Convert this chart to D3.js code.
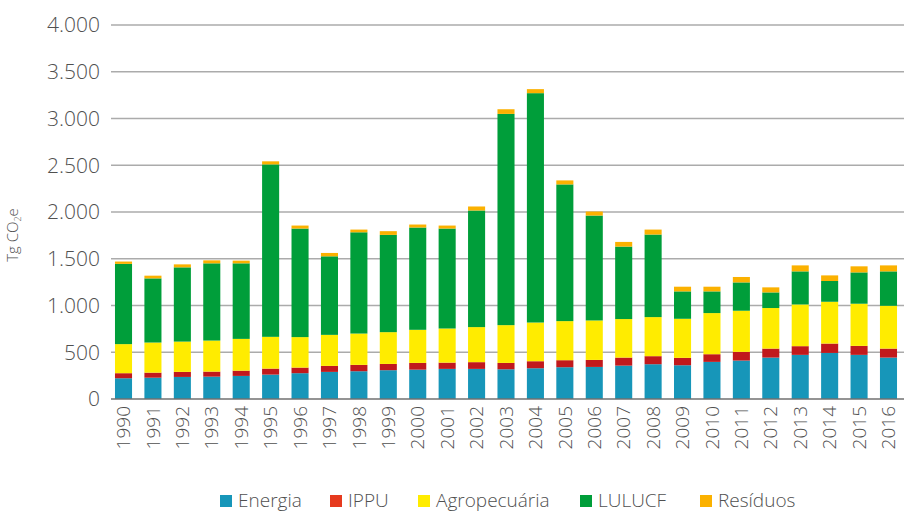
<!DOCTYPE html>
<html lang="pt">
<head>
<meta charset="utf-8">
<title>Emissões por setor 1990-2016</title>
<script src="https://cdn.jsdelivr.net/npm/d3@7"></script>
<style>
  body { margin: 0; background: #fff; }
  svg { display: block; }
  .tick-label { font-family: "Open Sans", sans-serif; font-weight: 300; fill: #505050; }
  .grid line { stroke: #ababab; stroke-width: 1.5px; }
  .legend text { font-family: "Open Sans", sans-serif; font-weight: 300; font-size: 19px; fill: #505050; }
</style>
</head>
<body>
<div id="chart"></div>
<script>
// values in Tg CO2e
var years = ["1990","1991","1992","1993","1994","1995","1996","1997","1998","1999",
             "2000","2001","2002","2003","2004","2005","2006","2007","2008","2009",
             "2010","2011","2012","2013","2014","2015","2016"];

var energia =      [222,228,236,239,247,261,276,290,297,308,314,322,322,318,329,340,343,357,372,361,397,411,443,472,493,472,443];
var ippu =         [54,54,54,54,56,64,60,64,68,67,72,67,72,68,75,75,75,86,86,79,82,93,96,93,100,96,96];
var agropecuaria = [311,322,324,332,340,340,326,332,335,340,354,365,375,404,414,418,422,412,418,418,440,440,434,446,447,451,458];
var lulucf =       [858,686,794,826,808,1844,1161,840,1083,1040,1094,1069,1247,2259,2453,1462,1122,775,883,293,232,303,167,354,222,335,368];
var residuos =     [25,29,32,32,29,33,32,36,29,40,32,32,43,50,43,43,43,50,53,50,50,58,54,64,60,65,64];

var seriesNames = ["Energia", "IPPU", "Agropecuária", "LULUCF", "Resíduos"];
var barColors =    ["#1796b9", "#c1191c", "#ffec00", "#009e3a", "#fbb100"];
var legendColors = ["#1796b9", "#e63a1e", "#ffec00", "#009e3a", "#fbb100"];
var yTicks = [0, 500, 1000, 1500, 2000, 2500, 3000, 3500, 4000];

var width = 904, height = 513;

var rows = years.map(function(y, i) {
  return {year: y, "Energia": energia[i], "IPPU": ippu[i], "Agropecuária": agropecuaria[i],
          "LULUCF": lulucf[i], "Resíduos": residuos[i]};
});

var svg = d3.select("#chart").append("svg")
  .attr("width", width)
  .attr("height", height);

var x = d3.scaleBand()
  .domain(years)
  .range([108.8, 903.2])
  .paddingInner(0.42)
  .paddingOuter(0.21);

var y = d3.scaleLinear()
  .domain([0, 4000])
  .range([399, 25]);

var fmt = d3.formatLocale({decimal: ",", thousands: ".", grouping: [3], currency: ["R$", ""]}).format(",");

// grid lines
svg.append("g")
  .attr("class", "grid")
  .selectAll("line")
  .data(yTicks.slice(1))
  .enter().append("line")
  .attr("x1", 111)
  .attr("x2", 904)
  .attr("y1", function(d) { return y(d); })
  .attr("y2", function(d) { return y(d); });

// y labels
svg.append("g")
  .selectAll("text")
  .data(yTicks)
  .enter().append("text")
  .attr("class", "tick-label")
  .attr("x", 100)
  .attr("y", function(d) { return y(d); })
  .attr("dy", "0.35em")
  .attr("text-anchor", "end")
  .style("font-size", "21px")
  .text(function(d) { return fmt(d); });

// stacked bars
var stack = d3.stack().keys(seriesNames);
var layers = stack(rows);

svg.append("g")
  .selectAll("g")
  .data(layers)
  .enter().append("g")
  .attr("fill", function(d, i) { return barColors[i]; })
  .selectAll("rect")
  .data(function(d) { return d; })
  .enter().append("rect")
  .attr("x", function(d) { return x(d.data.year); })
  .attr("width", x.bandwidth())
  .attr("y", function(d) { return y(d[1]); })
  .attr("height", function(d) { return y(d[0]) - y(d[1]); });

// x axis line
svg.append("line")
  .attr("x1", 111)
  .attr("x2", 904)
  .attr("y1", y(0))
  .attr("y2", y(0))
  .attr("stroke", "#707070")
  .attr("stroke-width", 1.5);

// x labels, rotated
svg.append("g")
  .selectAll("text")
  .data(years)
  .enter().append("text")
  .attr("class", "tick-label")
  .attr("transform", function(d) {
    return "translate(" + (x(d) + x.bandwidth() / 2) + "," + 406 + ") rotate(-90)";
  })
  .attr("dy", "0.35em")
  .attr("text-anchor", "end")
  .style("font-size", "19px")
  .text(function(d) { return d; });

// y title
var yTitle = svg.append("text")
  .attr("class", "tick-label")
  .attr("transform", "translate(18,235) rotate(-90)")
  .attr("text-anchor", "middle")
  .style("font-size", "15px");
yTitle.append("tspan").text("Tg CO");
yTitle.append("tspan").attr("dy", 3).style("font-size", "9px").text("2");
yTitle.append("tspan").attr("dy", -3).text("e");

// legend
var legendX = [220, 330, 418, 580, 700];
var legend = svg.append("g").attr("class", "legend");
seriesNames.forEach(function(name, i) {
  legend.append("rect")
    .attr("x", legendX[i])
    .attr("y", 495)
    .attr("width", 12)
    .attr("height", 12)
    .attr("fill", legendColors[i]);
  legend.append("text")
    .attr("x", legendX[i] + 18)
    .attr("y", 500)
    .attr("dy", "0.35em")
    .text(name);
});
</script>
</body>
</html>
